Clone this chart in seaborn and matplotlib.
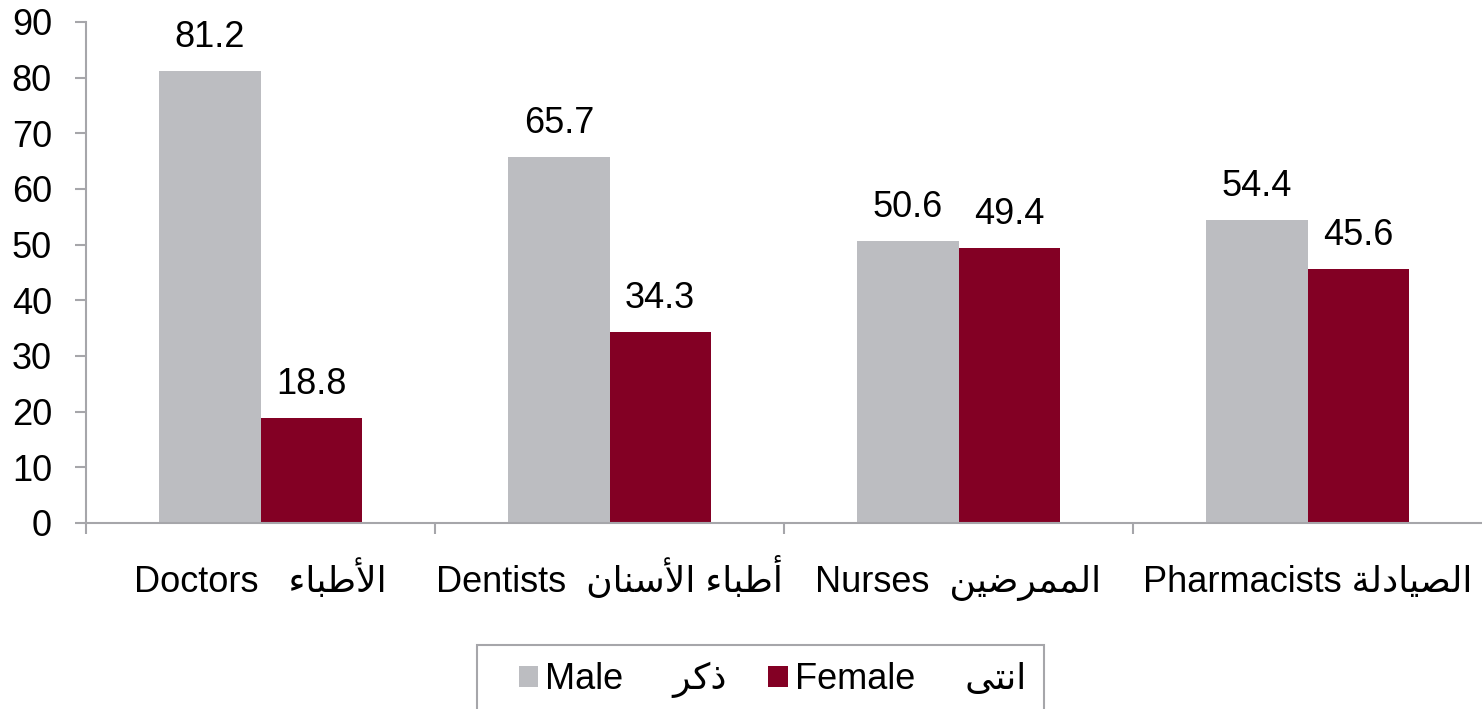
import pandas as pd
import seaborn as sns
import matplotlib
matplotlib.use("Agg")
import matplotlib.pyplot as plt
from matplotlib.patches import Patch, Rectangle

# Arabic written in presentation forms, visual (left-to-right) order,
# because matplotlib does no Arabic shaping on its own
professions = ["Doctors", "Dentists", "Nurses", "Pharmacists"]
tick_labels = [
    "Doctors   \uFE80\uFE8E\uFE92\uFEC3\uFEF7\uFE8D",                                    # الأطباء
    "Dentists  \uFEE5\uFE8E\uFEE8\uFEB3\uFEF7\uFE8D \uFE80\uFE8E\uFE92\uFEC3\uFE83",     # أطباء الأسنان
    "Nurses  \uFEE6\uFEF4\uFEBF\uFEAE\uFEE4\uFEE4\uFEDF\uFE8D",                          # الممرضين
    "Pharmacists \uFE94\uFEDF\uFEA9\uFE8E\uFEF4\uFEBC\uFEDF\uFE8D",                      # الصيادلة
]
male = [81.2, 65.7, 50.6, 54.4]
female = [18.8, 34.3, 49.4, 45.6]
genders = ["Male", "Female"]
legend_labels = ["Male     \uFEAE\uFEDB\uFEAB", "Female     \uFEF0\uFE98\uFEE7\uFE8D"]  # ذكر , انثى

colors = {"Male": "#bcbdc1", "Female": "#830024"}
axis_col = "#a6a6aa"
fam = ["Liberation Sans", "DejaVu Sans"]
fs = 26

df = pd.DataFrame({
    "Profession": professions * 2,
    "Gender": ["Male"] * 4 + ["Female"] * 4,
    "Percent": male + female,
})

sns.set_style("white")
plt.rcParams["font.family"] = fam
plt.rcParams["text.color"] = "black"
plt.rcParams["xtick.labelcolor"] = "black"
plt.rcParams["ytick.labelcolor"] = "black"

fig = plt.figure(figsize=(14.82, 7.09), dpi=100)
ax = fig.add_axes([86 / 1482, 1 - 523 / 709, 1 - 86 / 1482, (523 - 22) / 709])

sns.barplot(data=df, x="Profession", y="Percent", hue="Gender", order=professions,
            hue_order=genders, palette=colors, width=0.58, gap=0, saturation=1,
            linewidth=0, legend=False, ax=ax)

for cont in ax.containers:
    ax.bar_label(cont, fmt="%.1f", padding=11.5, fontsize=fs, family=fam, color="black")

ax.set_xlim(-0.5, 3.5)
ax.set_ylim(0, 90)
ax.set_yticks(range(0, 91, 10))
ax.set_xlabel("")
ax.set_ylabel("")

ax.set_xticks(range(4))
ax.set_xticklabels(tick_labels, fontsize=fs, family=fam, va="baseline")
ax.set_xticks([i - 0.5 for i in range(4)], minor=True)
ax.tick_params(axis="x", which="major", bottom=True, length=0, pad=50)
ax.tick_params(axis="x", which="minor", bottom=True, length=8, width=1.5, color=axis_col, direction="out")
ax.tick_params(axis="y", left=True, length=8, width=1.5, color=axis_col, direction="out", pad=16.5,
               labelsize=fs)
for lab in ax.get_yticklabels():
    lab.set_family(fam)

for side in ["top", "right"]:
    ax.spines[side].set_visible(False)
for side in ["left", "bottom"]:
    ax.spines[side].set_color(axis_col)
    ax.spines[side].set_linewidth(1.5)

# legend frame, runs off the bottom edge as in the original
fig.patches.append(Rectangle((477 / 1482, -0.05), (1044 - 477) / 1482, (709 - 645) / 709 + 0.05,
                             transform=fig.transFigure, facecolor="none", edgecolor=axis_col,
                             linewidth=1.5))

handles = [Patch(facecolor=colors[g], edgecolor="none") for g in genders]
fig.legend(handles, legend_labels, loc="center left", bbox_to_anchor=(519 / 1482, 1 - 680 / 709),
           ncol=2, frameon=False, prop={"family": fam, "size": fs},
           handlelength=0.53, handleheight=0.53, handletextpad=0.2, columnspacing=1.15,
           borderpad=0, borderaxespad=0)

fig.savefig("out.png", dpi=100)
